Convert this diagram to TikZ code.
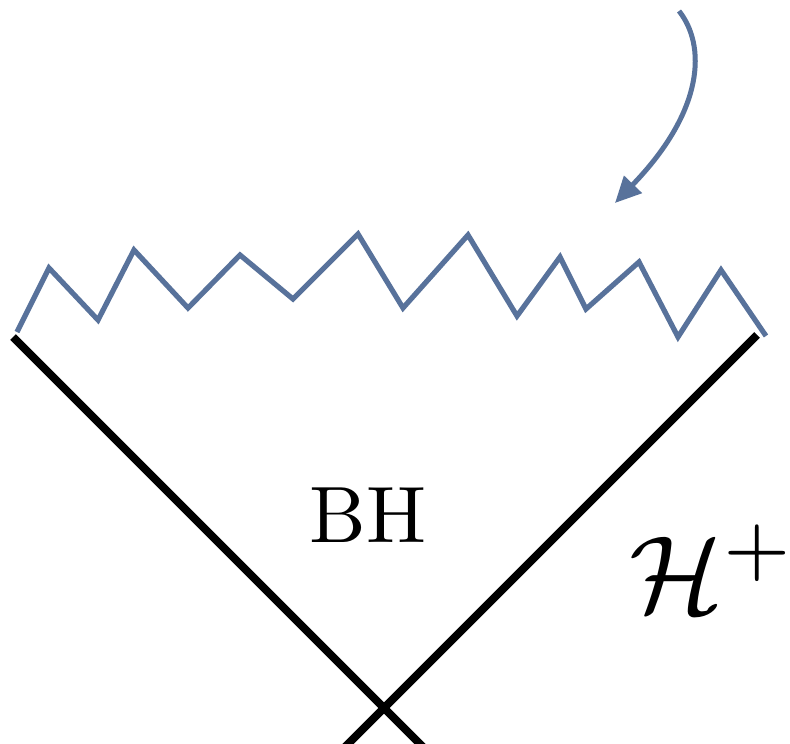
\documentclass[tikz,border=0pt]{standalone}
\usetikzlibrary{arrows.meta}
\definecolor{zig}{RGB}{88,114,155}
\tikzset{
  horizon/.style={line width=8pt, black},
  singular/.style={line width=5.2pt, zig, line join=miter},
  pointer/.style={line width=5pt, zig, -{Triangle[length=26pt,width=24pt]}},
  lbl/.style={inner sep=0pt, anchor=base, transform shape}
}
\begin{document}
\begin{tikzpicture}[x=1pt,y=-1pt]
\useasboundingbox (0,0) rectangle (790,744);
% horizon lines
\coordinate (L) at (13,337);
\coordinate (Lb) at (430,754);
\coordinate (R) at (757,335);
\coordinate (Rb) at (338,754);
\draw[horizon] (L) -- (Lb);
\draw[horizon] (R) -- (Rb);
% singularity zigzag
\coordinate (z0) at (17,332);
\coordinate (z1) at (49,268);
\coordinate (z2) at (98,320);
\coordinate (z3) at (134,250);
\coordinate (z4) at (188,308);
\coordinate (z5) at (240,255);
\coordinate (z6) at (293,299);
\coordinate (z7) at (358,234);
\coordinate (z8) at (403,308);
\coordinate (z9) at (468,235);
\coordinate (z10) at (517,316);
\coordinate (z11) at (560,257);
\coordinate (z12) at (586,309);
\coordinate (z13) at (639,262);
\coordinate (z14) at (678,337);
\coordinate (z15) at (721,270);
\coordinate (z16) at (766,336);
\draw[singular] (z0) -- (z1) -- (z2) -- (z3) -- (z4) -- (z5) -- (z6) -- (z7) -- (z8) -- (z9) -- (z10) -- (z11) -- (z12) -- (z13) -- (z14) -- (z15) -- (z16);
% arrow
\coordinate (a0) at (679,11);
\coordinate (a1) at (615,203);
\draw[pointer] (a0) .. controls (706,45) and (705,110) .. (a1);
% labels
\node[lbl, scale=8] (bh) at (368,542) {BH};
\node[lbl, anchor=base west, scale=11] (hp) at (627,612) {$\mathcal{H}^{+}$};
\end{tikzpicture}
\end{document}
